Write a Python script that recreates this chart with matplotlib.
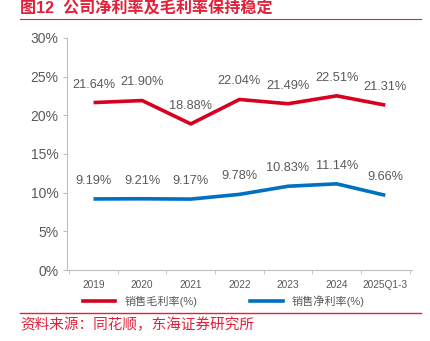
import numpy as np
import matplotlib.pyplot as plt
from matplotlib.lines import Line2D

plt.rcParams['font.family'] = ['Liberation Sans', 'Noto Sans CJK SC', 'DejaVu Sans']

years = ['2019', '2020', '2021', '2022', '2023', '2024', '2025Q1-3']
gross = [21.64, 21.90, 18.88, 22.04, 21.49, 22.51, 21.31]
net = [9.19, 9.21, 9.17, 9.78, 10.83, 11.14, 9.66]
red = '#D7001F'
blue = '#0070C0'
grey = '#595959'

fig = plt.figure(figsize=(4.31, 3.41), dpi=100)
ax = fig.add_axes([0.155, 0.208, 0.801, 0.681])

x = np.arange(len(years))
ax.plot(x, gross, color=red, lw=2.6, solid_capstyle='butt')
ax.plot(x, net, color=blue, lw=2.6, solid_capstyle='butt')
for xi, v in zip(x, gross):
    ax.annotate(f'{v:.2f}%', (xi, v), xytext=(0, 13), textcoords='offset points',
                ha='center', va='center', fontsize=9.2, color=grey)
for xi, v in zip(x, net):
    ax.annotate(f'{v:.2f}%', (xi, v), xytext=(0, 13), textcoords='offset points',
                ha='center', va='center', fontsize=9.2, color=grey)

ax.set_xlim(-0.55, len(years) - 0.45)
ax.set_ylim(0, 30)
ax.set_yticks(range(0, 31, 5))
ax.set_yticklabels([f'{t}%' for t in range(0, 31, 5)], fontsize=10, color=grey)
ax.set_xticks(x)
ax.set_xticklabels(years, fontsize=7.3, color=grey)
ax.set_xticks(np.arange(-0.5, len(years), 1), minor=True)
ax.tick_params(axis='x', which='major', length=0, pad=7)
ax.tick_params(axis='x', which='minor', length=3, color='#BFBFBF')
ax.tick_params(axis='y', length=3, color='#BFBFBF', pad=3)
for s in ['top', 'right']:
    ax.spines[s].set_visible(False)
for s in ['left', 'bottom']:
    ax.spines[s].set_color('#BFBFBF')
    ax.spines[s].set_linewidth(0.8)

# legend
fig.add_artist(Line2D([83/431, 115/431], [1-301/341]*2, color=red, lw=2.6))
fig.text(125/431, 1-301/341, '销售毛利率(%)', fontsize=8, color=grey, va='center')
fig.add_artist(Line2D([250/431, 283/431], [1-301/341]*2, color=blue, lw=2.6))
fig.text(292/431, 1-301/341, '销售净利率(%)', fontsize=8, color=grey, va='center')

# title and source
fig.text(20/431, 1-8/341, '图12  公司净利率及毛利率保持稳定', fontsize=11.6, fontweight='bold',
         color='#E1213A', va='center')
fig.add_artist(Line2D([20/431, 421/431], [1-19/341]*2, color='#E1213A', lw=0.8))
fig.add_artist(Line2D([20/431, 421/431], [1-313/341]*2, color='#E1213A', lw=1.0))
fig.text(20/431, 1-325/341, '资料来源：同花顺，东海证券研究所', fontsize=10.5, color='#E1213A', va='center')

fig.savefig('out.png', dpi=100)
